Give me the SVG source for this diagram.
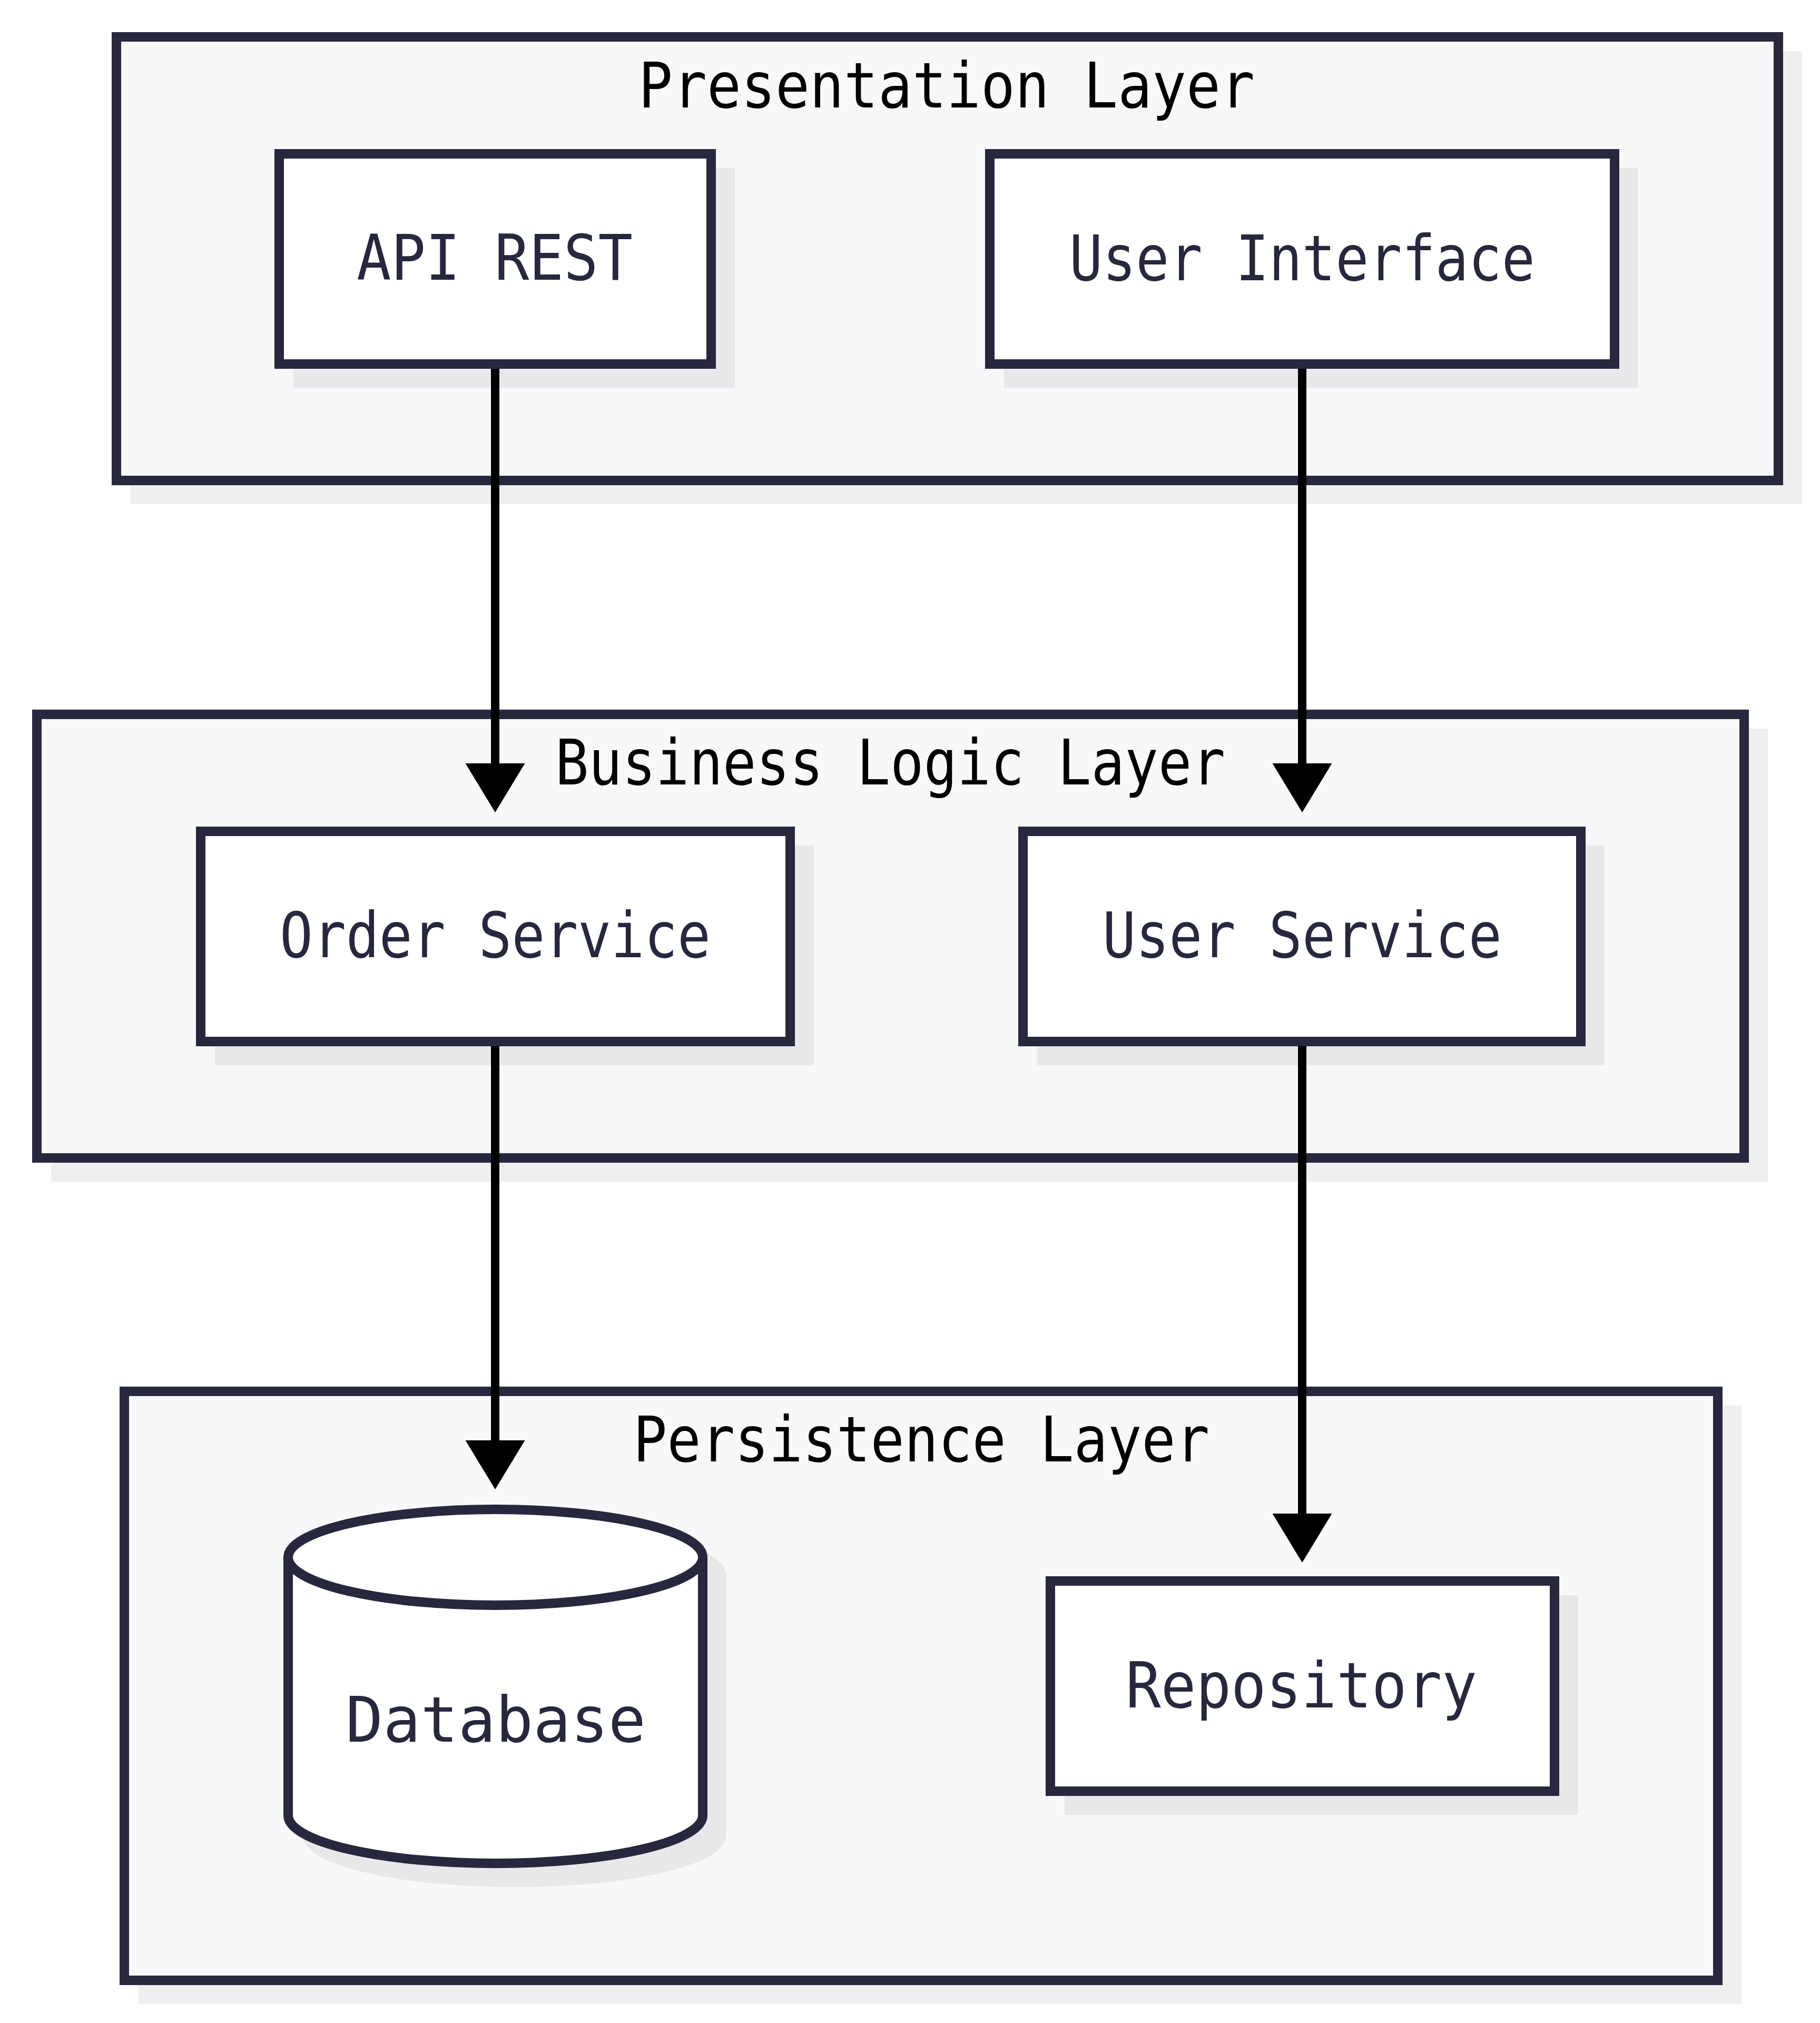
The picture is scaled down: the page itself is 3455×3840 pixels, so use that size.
<svg xmlns="http://www.w3.org/2000/svg" width="3455" height="3840" viewBox="0 0 3455 3840">
<defs>
<style>
.layer{fill:#f8f8fa;stroke:#27273d;stroke-width:18}
.lshadow{fill:#efefef;stroke:#efefef;stroke-width:18}
.node{fill:#ffffff;stroke:#27273d;stroke-width:18}
.nshadow{fill:#e8e8eb;stroke:#e8e8eb;stroke-width:18}
.title{font-family:"DejaVu Sans Mono","Liberation Mono",monospace;font-size:120px;fill:#000000}
.label{font-family:"DejaVu Sans Mono","Liberation Mono",monospace;font-size:120px;fill:#27273d}
.edge{fill:none;stroke:#000000;stroke-width:16}
</style>
<marker id="arrow" markerUnits="userSpaceOnUse" markerWidth="93" markerHeight="113" refX="13" refY="56.5" orient="auto" viewBox="0 0 93 113">
<path d="M0,0 L93,56.5 L0,113 Z" fill="#000000"/>
</marker>
</defs>
<rect width="3455" height="3840" fill="#ffffff"/>

<g id="presentation-layer">
<rect class="lshadow" x="257" y="106" width="3155" height="842"/>
<rect class="layer" x="221" y="70" width="3155" height="842"/>
<text class="title" x="1212" y="204" textLength="1170" lengthAdjust="spacingAndGlyphs">Presentation Layer</text>
</g>

<g id="business-layer">
<rect class="lshadow" x="106" y="1392" width="3241" height="842"/>
<rect class="layer" x="70" y="1356" width="3241" height="842"/>
<text class="title" x="1054" y="1489" textLength="1272" lengthAdjust="spacingAndGlyphs">Business Logic Layer</text>
</g>

<g id="persistence-layer">
<rect class="lshadow" x="272" y="2677" width="3025" height="1118"/>
<rect class="layer" x="236" y="2641" width="3025" height="1118"/>
<text class="title" x="1202" y="2774" textLength="1094" lengthAdjust="spacingAndGlyphs">Persistence Layer</text>
</g>

<g id="api-rest">
<rect class="nshadow" x="566" y="328" width="820" height="399"/>
<rect class="node" x="530" y="292" width="820" height="399"/>
<text class="label" x="677" y="531" textLength="524" lengthAdjust="spacingAndGlyphs">API REST</text>
</g>

<g id="user-interface">
<rect class="nshadow" x="1915" y="328" width="1186" height="399"/>
<rect class="node" x="1879" y="292" width="1186" height="399"/>
<text class="label" x="2030" y="532" textLength="884" lengthAdjust="spacingAndGlyphs">User Interface</text>
</g>

<g id="order-service">
<rect class="nshadow" x="417" y="1614" width="1119" height="399"/>
<rect class="node" x="381" y="1578" width="1119" height="399"/>
<text class="label" x="531" y="1817" textLength="818" lengthAdjust="spacingAndGlyphs">Order Service</text>
</g>

<g id="user-service">
<rect class="nshadow" x="1978" y="1614" width="1059" height="399"/>
<rect class="node" x="1942" y="1578" width="1059" height="399"/>
<text class="label" x="2093" y="1817" textLength="758" lengthAdjust="spacingAndGlyphs">User Service</text>
</g>

<g id="database">
<path class="nshadow" transform="translate(36,36)" d="M547,2956 V3446 A393.5,91 0 0 0 1334,3446 V2956 A393.5,91 0 0 0 547,2956 Z"/>
<path class="node" d="M547,2956 V3446 A393.5,91 0 0 0 1334,3446 V2956 A393.5,91 0 0 0 547,2956 Z"/>
<path class="node" style="fill:none" d="M547,2956 A393.5,91 0 0 0 1334,2956"/>
<text class="label" x="656" y="3306" textLength="570" lengthAdjust="spacingAndGlyphs">Database</text>
</g>

<g id="repository">
<rect class="nshadow" x="2030" y="3037" width="957" height="399"/>
<rect class="node" x="1994" y="3001" width="957" height="399"/>
<text class="label" x="2137" y="3241" textLength="667" lengthAdjust="spacingAndGlyphs">Repository</text>
</g>

<g id="connectors">
<path class="edge" d="M940,700 V1462" marker-end="url(#arrow)"/>
<path class="edge" d="M2472,700 V1462" marker-end="url(#arrow)"/>
<path class="edge" d="M940,1986 V2747" marker-end="url(#arrow)"/>
<path class="edge" d="M2472,1986 V2886" marker-end="url(#arrow)"/>
</g>
</svg>
